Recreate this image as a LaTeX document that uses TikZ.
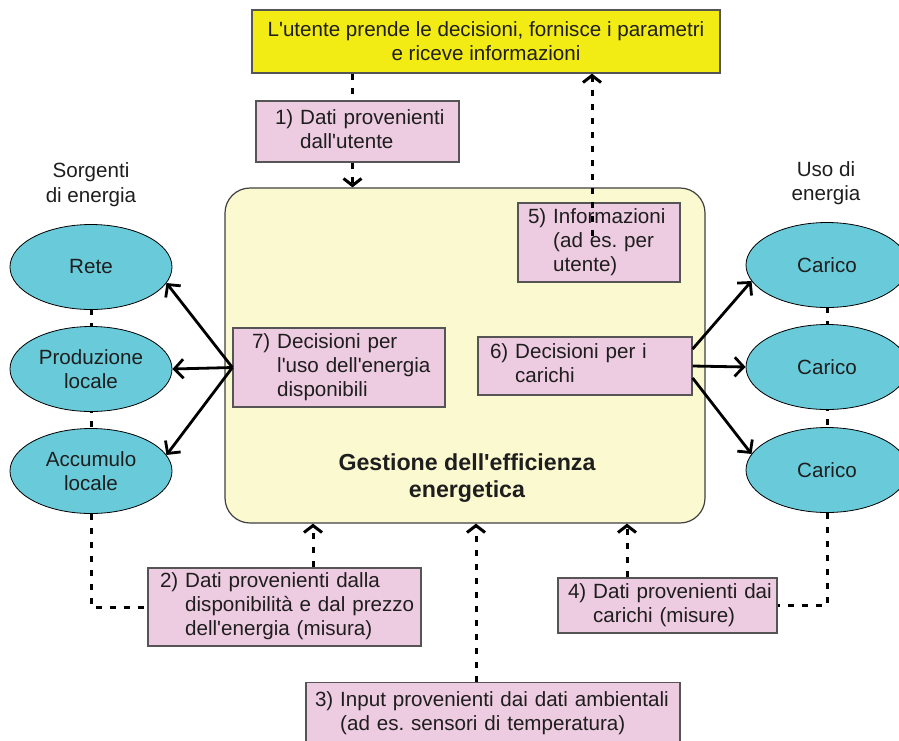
\documentclass[tikz,border=0pt]{standalone}
\usepackage{fontspec}
\setmainfont{Liberation Sans}
\usetikzlibrary{arrows.meta,shapes.geometric,calc}
\definecolor{ylw}{RGB}{243,235,20}
\definecolor{mainf}{RGB}{251,249,208}
\definecolor{pinkf}{RGB}{237,203,225}
\definecolor{cyanf}{RGB}{105,203,218}
\definecolor{boxline}{RGB}{85,85,85}
\definecolor{txt}{RGB}{30,30,30}
\newcommand{\hang}[2]{\begin{tabular}{@{}l@{\ }l@{}}#1&#2\end{tabular}}
\newcommand{\ap}{\textquotesingle}
\begin{document}
\begin{tikzpicture}[x=1pt,y=-1pt,
  font=\fontsize{20.6}{24}\selectfont, text=txt,
  box/.style={draw=boxline, line width=1.2pt, fill=pinkf, align=left, inner ysep=0pt},
  ell/.style={ellipse, draw=black, line width=0.8pt, fill=cyanf, minimum width=162pt, minimum height=85pt, inner sep=0pt, align=center},
  dsh/.style={line width=3pt, dash pattern=on 6pt off 8pt},
  darr/.style={dsh, -{Straight Barb[length=7pt,width=18pt]}},
  sarr/.style={line width=2.8pt, -{Straight Barb[length=9pt,width=19pt]}},
  lbl/.style={align=center, inner sep=0pt}
]
\useasboundingbox (0,0) rectangle (899,740);

% main box
\node[draw=black!75, line width=1.2pt, fill=mainf, rounded corners=25pt, minimum width=480pt, minimum height=335pt] (M) at (465,355.5) {};
\node[lbl, font=\fontsize{23.2}{27}\bfseries\selectfont] (T) at (467,478) {Gestione dell\ap efficienza\\energetica};

% user box
\node[draw=boxline, line width=1.2pt, fill=ylw, minimum width=468pt, minimum height=63pt, align=center, inner sep=0pt] (Y) at (486,41.5) {L\ap utente prende le decisioni, fornisce i parametri\\e riceve informazioni};

% labels
\node[lbl, font=\fontsize{20.6}{25}\selectfont] (LS) at (91,184.5) {Sorgenti\\di energia};
\node[lbl, font=\fontsize{20.6}{24}\selectfont] (LU) at (826,183) {Uso di\\energia};

% dashed links behind ellipses
\draw[dsh] (91,267) -- (91,471);
\draw[dsh] (827,265) -- (827,470);

% source ellipses
\node[ell] (Rete) at (91,267) {Rete};
\node[ell] (Prod) at (91,369) {Produzione\\locale};
\node[ell] (Acc) at (91,471) {Accumulo\\locale};

% load ellipses
\node[ell] (C1) at (827,265) {Carico};
\node[ell] (C2) at (827,367) {Carico};
\node[ell] (C3) at (827,470) {Carico};

% pink boxes
\node[box, text width=165pt, inner xsep=19pt, minimum height=61pt] (B1) at (357.5,131.5) {\hang{1)}{Dati provenienti\\&dall\ap utente}};
\node[box, text width=249pt, inner xsep=12pt, minimum height=78pt] (B2) at (284.5,607) {\hang{2)}{Dati provenienti dalla\\&disponibilità e dal prezzo\\&dell\ap energia (misura)}};
\node[box, text width=356pt, inner xsep=9pt, minimum height=63pt] (B3) at (493,714) {\hang{3)}{Input provenienti dai dati ambientali\\&(ad es.\ sensori di temperatura)}};
\node[box, text width=199pt, inner xsep=10pt, minimum height=55pt] (B4) at (667.5,605.5) {\hang{4)}{Dati provenienti dai\\&carichi (misure)}};
\node[box, text width=142pt, inner xsep=10pt, minimum height=79pt] (B5) at (599,242.5) {\hang{5)}{Informazioni\\&(ad es.\ per\\&utente)}};
\node[box, text width=190pt, inner xsep=12pt, minimum height=58pt] (B6) at (585,366) {\hang{6)}{Decisioni per i\\&carichi}};
\node[box, text width=174pt, inner xsep=19pt, minimum height=79pt] (B7) at (339,367.5) {\hang{7)}{Decisioni per\\&l\ap uso dell\ap energia\\&disponibili}};

% coordinates for dashed connectors
\coordinate (p1) at ([xshift=-5pt]B1.north);
\coordinate (q1) at ([xshift=-5pt]B1.south);
\coordinate (p5) at ([xshift=-7pt,yshift=7pt]B5.center);
\coordinate (p2) at ([xshift=28.5pt]B2.north);
\coordinate (p3) at ([xshift=-17pt]B3.north);
\coordinate (p4) at ([xshift=-40.5pt]B4.north);

% dashed connectors
\draw[dsh] (p1 |- Y.south) -- (p1);
\draw[darr] (q1) -- (q1 |- M.north);
\draw[darr] (p5) -- (p5 |- Y.south);
\draw[darr] (p2) -- (p2 |- M.south);
\draw[darr] (p3) -- (p3 |- M.south);
\draw[darr] (p4) -- (p4 |- M.south);
\draw[dsh] (Acc.south) |- (B2.west);
\draw[dsh] (C3.south) |- (B4.east);

% solid arrows
\draw[sarr] (B7.west) -- (Rete.-12);
\draw[sarr] (B7.west) -- (Prod.east);
\draw[sarr] (B7.west) -- (Acc.12);
\draw[sarr] ([yshift=17pt]B6.east) -- (C1.-168);
\draw[sarr] (B6.east) -- (C2.west);
\draw[sarr] ([yshift=-12pt]B6.east) -- (C3.168);
\end{tikzpicture}
\end{document}
